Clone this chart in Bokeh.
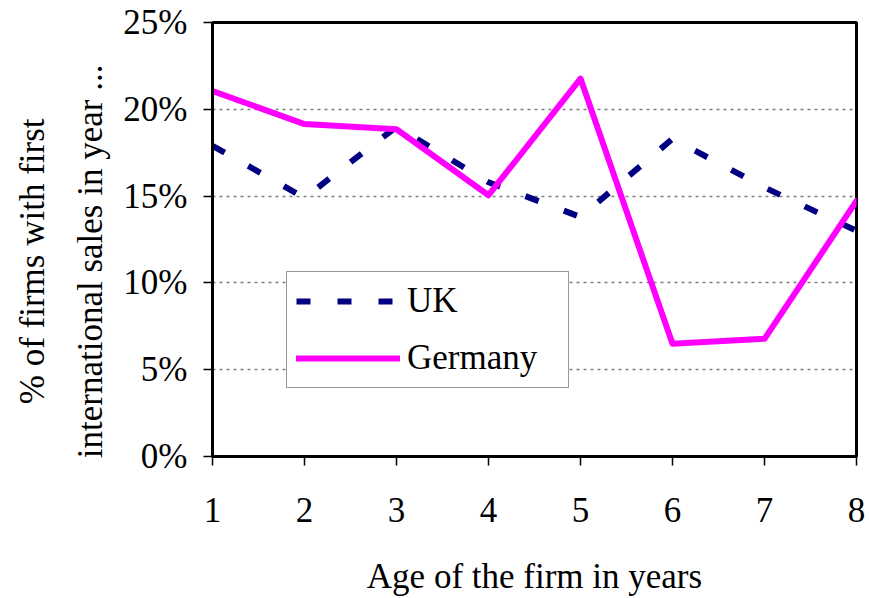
from bokeh.plotting import figure
from bokeh.models import Range1d, FixedTicker, NumeralTickFormatter, Legend, LegendItem
from bokeh.embed import file_html
from bokeh.resources import INLINE

ages = [1, 2, 3, 4, 5, 6, 7, 8]
uk = [0.179, 0.149, 0.190, 0.158, 0.138, 0.183, 0.155, 0.130]
germany = [0.2105, 0.1915, 0.1885, 0.1505, 0.2177, 0.0649, 0.0678, 0.1472]
y_ticks = [0, 0.05, 0.10, 0.15, 0.20, 0.25]
x_title = "Age of the firm in years"
y_title_lines = ["% of firms with first", "international sales in year ..."]

FONT = "Liberation Serif"
NBSP = "\u00a0" * 5  # pushes the visible title slightly downward, as in the original

p = figure(width=869, height=598, output_backend="svg", toolbar_location=None,
           x_range=Range1d(1, 8), y_range=Range1d(0, 0.25),
           min_border_left=212, min_border_right=13, min_border_top=22, min_border_bottom=142)

p.outline_line_color = "black"
p.outline_line_width = 3
p.background_fill_color = "white"
p.border_fill_color = "white"

p.xgrid.grid_line_color = None
p.ygrid.grid_line_color = "#808080"
p.ygrid.grid_line_dash = "3 4"
p.ygrid.grid_line_width = 1.5

p.xaxis.ticker = FixedTicker(ticks=ages)
p.yaxis.ticker = FixedTicker(ticks=y_ticks)
p.yaxis.formatter = NumeralTickFormatter(format="0%")

for ax in (p.xaxis, p.yaxis):
    ax.axis_line_color = "black"
    ax.axis_line_width = 3
    ax.major_tick_line_color = "black"
    ax.major_tick_line_width = 1.5
    ax.major_tick_out = 9
    ax.major_tick_in = 0
    ax.minor_tick_line_color = None
    ax.major_label_text_font = FONT
    ax.major_label_text_font_size = "35px"
    ax.major_label_text_color = "black"
    ax.axis_label_text_font = FONT
    ax.axis_label_text_font_size = "35px"
    ax.axis_label_text_font_style = "normal"
    ax.axis_label_text_color = "black"

p.yaxis.major_label_standoff = 16
p.yaxis.axis_label = "\n".join(line + NBSP for line in y_title_lines)
p.yaxis.axis_label_text_line_height = 1.5
p.yaxis.axis_label_standoff = 10
p.xaxis.major_label_standoff = 32
p.xaxis.axis_label = x_title
p.xaxis.axis_label_standoff = 32

r_uk = p.line(ages, uk, line_color="#000080", line_width=6, line_dash="14 27")
r_de = p.line(ages, germany, line_color="#FF00FF", line_width=6,
              line_cap="round", line_join="round")

legend = Legend(items=[LegendItem(label="UK", renderers=[r_uk]),
                       LegendItem(label="Germany", renderers=[r_de])],
                location=(74, 68), orientation="vertical")
legend.label_text_font = FONT
legend.label_text_font_size = "35px"
legend.label_text_color = "black"
legend.glyph_width = 104
legend.glyph_height = 40
legend.label_height = 40
legend.label_standoff = 7
legend.label_width = 152
legend.spacing = 17
legend.padding = 9
legend.margin = 0
legend.border_line_color = "#333333"
legend.border_line_width = 1.5
legend.background_fill_color = "white"
legend.background_fill_alpha = 1
p.add_layout(legend, "center")

open("out.html", "w").write(file_html(p, INLINE))
